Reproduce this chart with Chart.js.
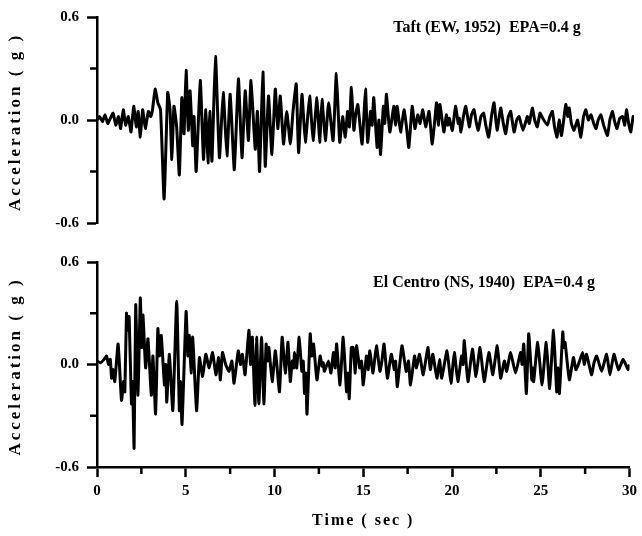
<!DOCTYPE html>
<html>
<head>
<meta charset="utf-8">
<script src="https://cdn.jsdelivr.net/npm/chart.js@4.4.1/dist/chart.umd.min.js"></script>
<style>
  body { margin: 0; background: #fff; }
  #wrap { position: relative; width: 642px; height: 536px; }
  canvas { position: absolute; left: 0; }
  #taft-graph { top: 0; }
  #centro-graph { top: 245px; }
</style>
</head>
<body>
<div id="wrap">
  <canvas id="taft-graph" width="642" height="240"></canvas>
  <canvas id="centro-graph" width="642" height="291"></canvas>
</div>
<script>
// values (time in sec, acceleration in g)
const taftTime = [0.00,0.15,0.30,0.45,0.60,0.75,0.90,1.05,1.20,1.32,1.47,1.60,1.75,1.90,2.05,2.20,2.30,2.42,2.55,2.70,2.87,3.00,3.10,3.25,3.40,3.55,3.75,3.95,4.08,4.18,4.30,4.45,4.60,4.74,4.86,4.98,5.10,5.20,5.35,5.42,5.54,5.77,5.95,6.08,6.20,6.30,6.42,6.62,6.84,7.05,7.26,7.44,7.67,7.90,8.10,8.28,8.46,8.60,8.84,8.96,9.08,9.27,9.40,9.58,9.77,9.96,10.10,10.24,10.42,10.60,10.80,10.95,11.13,11.26,11.45,11.64,11.88,12.07,12.29,12.44,12.57,12.76,12.94,13.19,13.37,13.56,13.72,13.87,14.00,14.10,14.21,14.35,14.45,14.57,14.81,15.00,15.12,15.28,15.37,15.46,15.65,15.75,15.84,16.00,16.08,16.17,16.36,16.58,16.68,16.77,16.96,17.15,17.30,17.42,17.61,17.76,17.92,18.05,18.20,18.36,18.55,18.73,18.97,19.07,19.16,19.38,19.52,19.60,19.68,19.85,20.03,20.18,20.24,20.33,20.47,20.60,20.80,20.92,21.06,21.18,21.30,21.45,21.60,21.72,21.88,22.05,22.18,22.35,22.55,22.70,22.83,22.98,23.11,23.30,23.45,23.58,23.80,24.04,24.15,24.32,24.45,24.60,24.75,24.90,25.16,25.30,25.44,25.56,25.70,25.82,25.95,26.19,26.30,26.38,26.50,26.65,26.85,27.03,27.18,27.31,27.45,27.60,27.75,27.88,28.00,28.15,28.30,28.52,28.65,28.80,28.92,29.05,29.20,29.36,29.48,29.58,29.70,29.82,29.95,30.00];
const taftAccel = [0.00,0.02,-0.01,0.03,-0.02,0.01,0.04,-0.03,0.02,-0.05,0.06,-0.03,0.02,-0.07,0.08,-0.04,0.05,-0.10,0.06,-0.05,0.05,0.02,0.06,0.18,0.10,0.06,-0.46,0.16,0.06,-0.23,0.08,-0.04,-0.32,0.13,-0.08,0.29,-0.06,0.17,-0.15,0.02,-0.30,0.23,-0.23,0.06,-0.25,0.05,-0.24,0.37,-0.22,0.16,-0.21,0.15,-0.29,0.24,-0.22,0.17,-0.12,0.23,-0.17,0.05,-0.30,0.28,-0.27,0.14,-0.20,0.18,-0.05,0.14,-0.14,0.05,-0.14,0.05,0.21,-0.19,0.15,-0.13,0.14,-0.12,0.13,-0.13,0.12,-0.12,0.10,-0.12,0.27,-0.13,0.02,-0.10,0.05,-0.04,0.19,-0.06,0.03,0.09,-0.14,0.18,-0.13,0.05,-0.03,0.13,-0.16,0.00,-0.20,0.08,-0.02,0.15,-0.07,0.08,-0.03,0.08,-0.07,0.06,-0.05,-0.16,0.08,-0.05,0.03,-0.02,0.06,-0.04,0.05,-0.14,0.10,-0.03,0.09,-0.07,0.03,-0.03,0.01,-0.06,0.08,-0.02,0.01,-0.07,0.02,0.08,-0.04,0.03,0.06,-0.01,-0.06,0.02,0.04,-0.03,-0.10,0.03,0.10,-0.06,0.07,-0.02,-0.08,0.02,0.05,-0.07,0.00,0.02,-0.06,0.02,-0.02,0.07,0.00,-0.04,0.04,0.01,-0.03,0.02,0.05,-0.04,-0.10,0.00,-0.09,0.09,0.02,0.07,-0.02,-0.06,0.00,-0.10,0.02,0.06,0.00,0.03,-0.02,-0.05,0.00,0.03,-0.03,-0.09,0.00,0.05,-0.01,-0.05,0.01,0.02,-0.03,0.06,-0.02,-0.07,0.02,0.00];

const centroTime = [0.00,0.20,0.40,0.54,0.65,0.75,0.82,0.90,1.00,1.19,1.38,1.50,1.57,1.66,1.74,1.81,1.94,2.00,2.09,2.18,2.31,2.44,2.52,2.59,2.74,2.87,3.06,3.15,3.30,3.43,3.52,3.62,3.80,3.87,3.93,4.08,4.27,4.49,4.64,4.70,4.79,5.02,5.12,5.20,5.30,5.39,5.61,5.77,5.95,6.13,6.32,6.51,6.70,6.85,6.95,7.07,7.25,7.44,7.60,7.72,7.96,8.08,8.19,8.34,8.56,8.65,8.75,8.90,8.99,9.12,9.27,9.40,9.53,9.60,9.68,9.87,10.05,10.28,10.43,10.61,10.76,10.89,11.00,11.08,11.13,11.25,11.39,11.54,11.62,11.69,11.76,11.83,12.01,12.10,12.20,12.39,12.57,12.68,12.75,12.81,13.04,13.18,13.32,13.42,13.50,13.69,13.87,14.06,14.13,14.21,14.33,14.43,14.55,14.62,14.80,14.90,15.00,15.18,15.28,15.37,15.55,15.74,15.94,16.05,16.17,16.36,16.58,16.75,16.82,16.92,17.18,17.42,17.55,17.66,17.89,18.00,18.17,18.38,18.64,18.78,18.92,19.15,19.30,19.42,19.72,19.94,20.13,20.33,20.54,20.62,20.69,20.90,21.15,21.35,21.58,21.81,22.08,22.30,22.55,22.74,22.95,23.08,23.30,23.58,23.86,23.95,24.04,24.19,24.32,24.50,24.55,24.60,24.83,25.07,25.31,25.50,25.72,25.90,25.98,26.05,26.24,26.30,26.37,26.61,26.84,26.98,27.12,27.36,27.45,27.58,27.86,28.00,28.15,28.43,28.71,28.90,29.12,29.38,29.64,29.92,30.00];
const centroAccel = [0.02,0.01,0.03,0.05,0.00,0.03,-0.08,-0.03,-0.10,0.12,-0.21,-0.10,-0.16,0.30,0.20,0.28,-0.23,-0.10,-0.49,0.35,-0.18,0.39,0.10,0.29,-0.02,0.15,-0.18,0.05,-0.29,0.21,0.05,0.17,-0.12,0.00,-0.22,0.06,-0.27,0.37,-0.27,-0.10,-0.35,0.31,0.05,0.17,-0.05,0.16,-0.27,0.04,-0.07,0.06,-0.02,0.07,-0.06,0.04,-0.09,0.07,0.00,-0.04,0.02,-0.11,0.08,0.00,0.06,-0.06,0.20,0.00,0.16,-0.24,0.16,-0.23,0.16,-0.23,0.12,0.02,0.10,-0.10,0.08,-0.16,0.16,-0.05,0.13,-0.10,0.02,-0.02,0.07,-0.02,0.16,-0.04,0.02,-0.17,-0.05,-0.29,0.18,0.05,0.12,-0.09,0.05,-0.01,0.01,-0.04,0.02,-0.05,0.07,-0.02,0.12,-0.12,0.16,-0.16,-0.05,-0.20,0.10,0.10,-0.05,0.11,-0.02,0.02,-0.12,0.05,-0.03,0.08,-0.05,0.11,-0.04,0.02,0.12,-0.08,0.06,-0.03,0.02,-0.13,0.11,-0.04,0.02,-0.12,0.05,-0.02,0.06,-0.06,0.10,-0.03,0.06,-0.08,0.03,-0.08,0.08,-0.11,0.07,-0.10,0.05,0.00,0.14,-0.10,0.09,-0.07,0.10,-0.10,0.07,-0.06,0.11,-0.08,0.02,-0.04,0.07,-0.05,0.07,0.00,0.12,-0.17,0.18,-0.09,-0.02,-0.10,0.13,-0.12,0.13,-0.14,0.20,-0.16,-0.02,-0.17,0.19,0.10,0.13,-0.09,0.04,-0.03,0.00,0.07,0.00,0.06,-0.06,0.01,0.05,-0.04,0.06,-0.06,0.06,-0.03,0.03,-0.03,0.00];

const yTicks = [-0.6, 0, 0.6];
const yMinorTicks = [-0.3, 0.3];
const xTicks = [0, 5, 10, 15, 20, 25, 30];
const xMinorTicks = [2.5, 7.5, 12.5, 17.5, 22.5, 27.5];

const fontFamily = '"Liberation Serif", "Times New Roman", serif';
Chart.defaults.font.family = fontFamily;
Chart.defaults.font.weight = 'bold';
Chart.defaults.font.size = 15;
Chart.defaults.color = '#000';

function toPoints(times, values) {
    return times.map((t, i) => ({ x: t, y: values[i] }));
}

// minor ticks + texts that chart.js can't place the way the figure has them
const panelText = {
    id: 'panelText',
    afterDraw(chart, args, opts) {
        const ctx = chart.ctx;
        const area = chart.chartArea;
        const xs = chart.scales.x;
        const ys = chart.scales.y;
        ctx.save();
        ctx.strokeStyle = '#000';
        ctx.lineWidth = 2.5;
        yMinorTicks.forEach(v => {
            const py = ys.getPixelForValue(v);
            ctx.beginPath();
            ctx.moveTo(area.left - 7, py);
            ctx.lineTo(area.left, py);
            ctx.stroke();
        });
        if (opts.showX) {
            xMinorTicks.forEach(v => {
                const px = xs.getPixelForValue(v);
                ctx.beginPath();
                ctx.moveTo(px, area.bottom);
                ctx.lineTo(px, area.bottom + 7);
                ctx.stroke();
            });
        }
        ctx.fillStyle = '#000';
        ctx.textAlign = 'center';
        ctx.textBaseline = 'middle';
        ctx.font = 'bold 16px ' + fontFamily;
        ctx.fillText(opts.title, opts.titleX, opts.titleY);

        ctx.letterSpacing = '2px';
        if (opts.showX) {
            ctx.fillText('Time ( sec )', (area.left + area.right) / 2, opts.xTitleY);
        }
        ctx.font = 'bold 17px ' + fontFamily;
        ctx.letterSpacing = '3px';
        ctx.translate(16, (area.top + area.bottom) / 2 + 2);
        ctx.rotate(-Math.PI / 2);
        ctx.fillText('Acceleration ( g )', 0, 0);
        ctx.restore();
    }
};

function makeConfig(times, values, panel) {
    return {
        type: 'line',
        data: {
            datasets: [{
                data: toPoints(times, values),
                borderColor: '#000',
                borderWidth: 3,
                pointRadius: 0,
                tension: 0.15,
                borderJoinStyle: 'round'
            }]
        },
        plugins: [panelText],
        options: {
            responsive: false,
            animation: false,
            layout: { padding: panel.padding },
            plugins: {
                legend: { display: false },
                tooltip: { enabled: false },
                panelText: panel
            },
            scales: {
                x: {
                    type: 'linear',
                    display: panel.showX,
                    min: 0,
                    max: 30,
                    afterBuildTicks: scale => { scale.ticks = xTicks.map(v => ({ value: v })); },
                    afterFit: scale => { if (panel.showX) scale.height = 69; },
                    grid: { drawOnChartArea: false, tickLength: 10, tickWidth: 2.5, tickColor: '#000' },
                    border: { color: '#000', width: 2.5 },
                    ticks: { padding: 5, callback: v => v }
                },
                y: {
                    min: -0.6,
                    max: 0.6,
                    afterBuildTicks: scale => { scale.ticks = yTicks.map(v => ({ value: v })); },
                    afterFit: scale => { scale.width = 97; },
                    grid: { drawOnChartArea: false, tickLength: 10, tickWidth: 2.5, tickColor: '#000' },
                    border: { color: '#000', width: 2.5 },
                    ticks: {
                        padding: 8,
                        callback: v => Math.abs(v) < 1e-9 ? '0.0' : v.toFixed(1)
                    }
                }
            }
        }
    };
}

new Chart(document.getElementById('taft-graph'), makeConfig(taftTime, taftAccel, {
    title: 'Taft (EW, 1952)  EPA=0.4 g',
    titleX: 487, titleY: 28,
    showX: false,
    padding: { left: 0, right: 8, top: 17, bottom: 16 }
}));

new Chart(document.getElementById('centro-graph'), makeConfig(centroTime, centroAccel, {
    title: 'El Centro (NS, 1940)  EPA=0.4 g',
    titleX: 484, titleY: 38,
    showX: true,
    xTitleY: 276,
    padding: { left: 0, right: 8, top: 17, bottom: 0 }
}));
</script>
</body>
</html>
